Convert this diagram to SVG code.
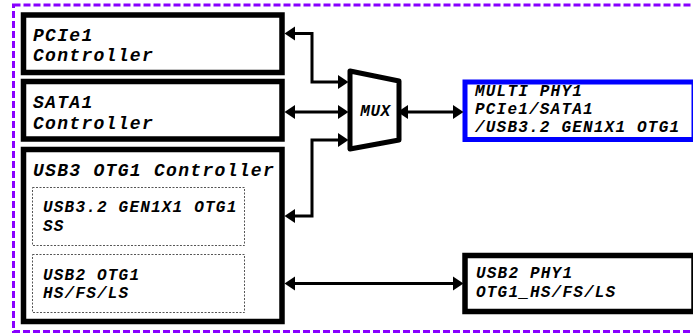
<svg xmlns="http://www.w3.org/2000/svg" width="693" height="334" viewBox="0 0 693 334">
<defs>
<style>
.box{fill:#fff;stroke:#000;stroke-width:5.5}
.phy{fill:#fff;stroke:#0000ff;stroke-width:5}
.sub{fill:#fff;stroke:#555;stroke-width:1;stroke-dasharray:2 1.5}
.t{font-family:"Liberation Mono","Courier New",monospace;font-weight:bold;font-style:italic;fill:#000}
.big{font-size:18px;letter-spacing:1.3px}
.sm{font-size:16px;letter-spacing:1.2px}
.c{fill:none;stroke:#000;stroke-width:3}
</style>
<marker id="ah" markerUnits="userSpaceOnUse" markerWidth="11" markerHeight="15" refX="5" refY="7.5" orient="auto-start-reverse" viewBox="0 0 11 15">
<path d="M0,0.5 L10.5,7.5 L0,14.5 z" fill="#000"/>
</marker>
</defs>
<rect x="13.5" y="5" width="700" height="326.5" fill="none" stroke="#8800ff" stroke-width="3" stroke-dasharray="7 3"/>
<g id="pcie1">
<rect class="box" x="23.5" y="15" width="258.5" height="57.5"/>
<text class="t big" x="33" y="40.7">PCIe1</text>
<text class="t big" x="33" y="61">Controller</text>
</g>
<g id="sata1">
<rect class="box" x="23.5" y="81.5" width="258.5" height="57.5"/>
<text class="t big" x="33" y="108">SATA1</text>
<text class="t big" x="33" y="128.5">Controller</text>
</g>
<g id="usb3">
<rect class="box" x="23.5" y="149.5" width="258.5" height="172"/>
<text class="t big" x="33" y="175.7">USB3 OTG1 Controller</text>
<g id="usb3ss">
<rect class="sub" x="32.5" y="187.5" width="212" height="58"/>
<text class="t sm" x="43" y="211.7">USB3.2 GEN1X1 OTG1</text>
<text class="t sm" x="43" y="230.7">SS</text>
</g>
<g id="usb2otg">
<rect class="sub" x="32.5" y="254.5" width="212" height="58"/>
<text class="t sm" x="43" y="280">USB2 OTG1</text>
<text class="t sm" x="43" y="298.3">HS/FS/LS</text>
</g>
</g>
<g id="mux">
<polygon points="350,71 399,81 399,140 350,149" fill="#fff" stroke="#000" stroke-width="5" stroke-linejoin="round"/>
<text class="t sm" x="375.5" y="115.7" text-anchor="middle" style="letter-spacing:0.6px">MUX</text>
</g>
<g id="multiphy">
<rect class="phy" x="465" y="82" width="229" height="57.5"/>
<text class="t sm" x="475" y="96">MULTI PHY1</text>
<text class="t sm" x="475" y="114">PCIe1/SATA1</text>
<text class="t sm" x="475" y="131.7">/USB3.2 GEN1X1 OTG1</text>
</g>
<g id="usb2phy">
<rect class="box" x="465" y="255.5" width="229" height="56"/>
<text class="t sm" x="476" y="278.3">USB2 PHY1</text>
<text class="t sm" x="476" y="296.7">OTG1_HS/FS/LS</text>
</g>
<g id="connectors">
<path class="c" d="M290,33.5 H312 V82 H343" marker-start="url(#ah)" marker-end="url(#ah)"/>
<path class="c" d="M290,112 H343" marker-start="url(#ah)" marker-end="url(#ah)"/>
<path class="c" d="M343,140 H312 V216 H290" marker-start="url(#ah)" marker-end="url(#ah)"/>
<path class="c" d="M403,112 H458" marker-start="url(#ah)" marker-end="url(#ah)"/>
<path class="c" d="M290,283.5 H458" marker-start="url(#ah)" marker-end="url(#ah)"/>
</g>
</svg>
